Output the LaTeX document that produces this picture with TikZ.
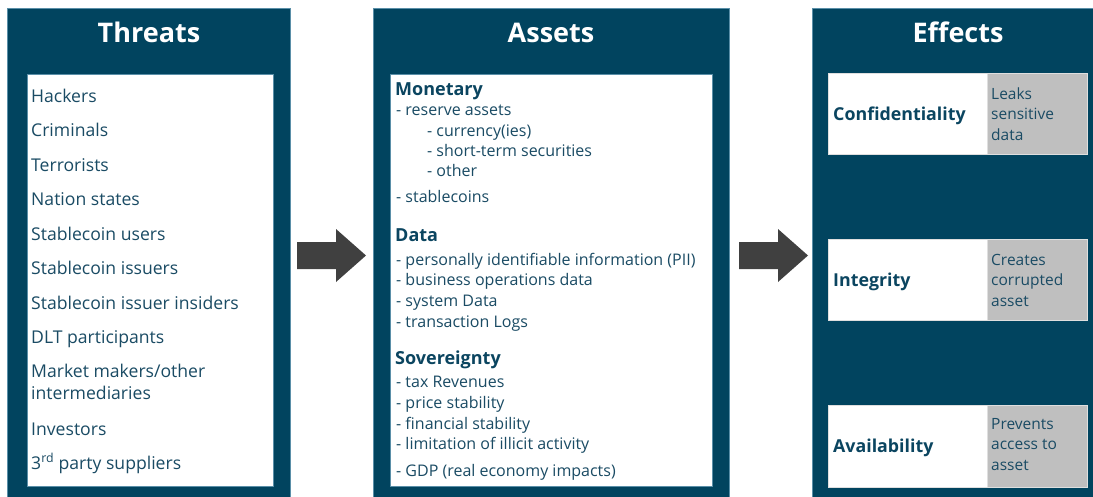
\documentclass[tikz,border=0pt]{standalone}
\usepackage{fontspec}
\setmainfont{Open Sans}
\definecolor{panel}{HTML}{01445F}
\definecolor{txt}{HTML}{1A4B64}
\definecolor{hd}{HTML}{0B4560}
\definecolor{gbox}{HTML}{BFBFBF}
\definecolor{arr}{HTML}{404040}
\definecolor{edge}{HTML}{5A8FA8}
\tikzset{
  panelbox/.style={fill=panel, draw=edge, line width=0.6pt},
  innerbox/.style={fill=white, draw=edge, line width=0.8pt},
  ttl/.style={anchor=base, text=white, inner sep=0, font=\fontsize{27}{31}\selectfont\bfseries},
  thr/.style={anchor=base west, text=txt, inner sep=0, font=\fontsize{17.6}{20}\selectfont},
  ast/.style={anchor=base west, text=txt, inner sep=0, font=\fontsize{16}{19}\selectfont},
  asthd/.style={anchor=base west, text=hd, inner sep=0, font=\fontsize{18}{21}\selectfont\bfseries},
  effhd/.style={anchor=base west, text=hd, inner sep=0, font=\fontsize{17.8}{21}\selectfont\bfseries},
  efftx/.style={anchor=base west, text=txt, inner sep=0, font=\fontsize{15.5}{18}\selectfont},
  whitecell/.style={fill=white, draw=gbox!50, line width=0.6pt},
  graycell/.style={fill=gbox, draw=gbox!50, line width=0.6pt},
  blockarrow/.style={fill=arr},
}
\begin{document}
\begin{tikzpicture}[x=1pt,y=-1pt]
\useasboundingbox (0,0) rectangle (1093,496);
% panels
\draw[panelbox] (7,8) rectangle (290,497);
\draw[panelbox] (373,8) rectangle (729,497);
\draw[panelbox] (812,8) rectangle (1094,497);
\node[ttl] (tthreats) at (149,42) {Threats};
\node[ttl] (tassets) at (551,42) {Assets};
\node[ttl] (teffects) at (958,42) {Effects};
% inner boxes
\draw[innerbox] (27,74) rectangle (273,486);
\draw[innerbox] (390,74) rectangle (712,486);
% threats
\node[thr] (h1) at (31,102) {Hackers};
\node[thr] (h2) at (31,136.5) {Criminals};
\node[thr] (h3) at (31,171) {Terrorists};
\node[thr] (h4) at (31,205.5) {Nation states};
\node[thr] (h5) at (31,240) {Stablecoin users};
\node[thr] (h6) at (31,274.5) {Stablecoin issuers};
\node[thr] (h7) at (31,309) {Stablecoin issuer insiders};
\node[thr] (h8) at (31,343.5) {DLT participants};
\node[thr] (h9) at (31,377) {Market makers/other};
\node[thr] (h10) at (31,399) {intermediaries};
\node[thr] (h11) at (31,435) {Investors};
\node[thr] (h12) at (31,469) {3\textsuperscript{rd} party suppliers};
% assets
\node[asthd] (m0) at (395,95) {Monetary};
\node[ast] (m1) at (396,115) {- reserve assets};
\node[ast] (m2) at (427,136) {- currency(ies)};
\node[ast] (m3) at (427,156.5) {- short-term securities};
\node[ast] (m4) at (427,176.7) {- other};
\node[ast] (m5) at (396,202.7) {- stablecoins};
\node[asthd] (d0) at (395,241.7) {Data};
\node[ast] (d1) at (396,265.5) {- personally identifiable information (PII)};
\node[ast] (d2) at (396,285.5) {- business operations data};
\node[ast] (d3) at (396,306) {- system Data};
\node[ast] (d4) at (396,327) {- transaction Logs};
\node[asthd] (s0) at (395,364) {Sovereignty};
\node[ast] (s1) at (396,387.7) {- tax Revenues};
\node[ast] (s2) at (396,408.3) {- price stability};
\node[ast] (s3) at (396,429.3) {- financial stability};
\node[ast] (s4) at (396,449.3) {- limitation of illicit activity};
\node[ast] (s5) at (396,476.7) {- GDP (real economy impacts)};
% effects
\draw[whitecell] (828,73) rectangle (987,154);
\draw[graycell] (987,73) rectangle (1087,154);
\draw[whitecell] (828,239) rectangle (987,320);
\draw[graycell] (987,239) rectangle (1087,320);
\draw[whitecell] (828,405) rectangle (987,487);
\draw[graycell] (987,405) rectangle (1087,487);
\node[effhd] (c) at (833,120) {Confidentiality};
\node[efftx] (c1) at (991,99.3) {Leaks};
\node[efftx] (c2) at (991,119.5) {sensitive};
\node[efftx] (c3) at (991,140) {data};
\node[effhd] (i) at (833,286) {Integrity};
\node[efftx] (i1) at (991,265) {Creates};
\node[efftx] (i2) at (991,285.5) {corrupted};
\node[efftx] (i3) at (991,306) {asset};
\node[effhd] (a) at (833,452.7) {Availability};
\node[efftx] (a1) at (991,429) {Prevents};
\node[efftx] (a2) at (991,449.7) {access to};
\node[efftx] (a3) at (991,470) {asset};
% arrows
\fill[blockarrow] (297,242) -- (336,242) -- (336,229) -- (366,255.5) -- (336,282) -- (336,269) -- (297,269) -- cycle;
\fill[blockarrow] (739,242) -- (778,242) -- (778,229) -- (808,255.5) -- (778,282) -- (778,269) -- (739,269) -- cycle;
\end{tikzpicture}
\end{document}
